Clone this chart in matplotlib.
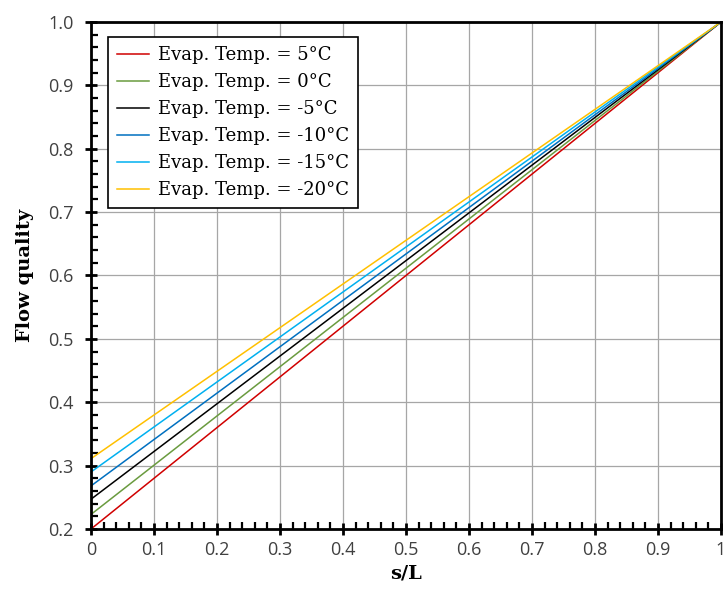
import matplotlib
matplotlib.use("Agg")
import matplotlib.pyplot as plt
import numpy as np
from matplotlib.ticker import MultipleLocator

s_over_l = [0.0, 1.0]
q_5 = [0.200, 1.0]
q_0 = [0.223, 1.0]
q_m5 = [0.247, 1.0]
q_m10 = [0.268, 1.0]
q_m15 = [0.290, 1.0]
q_m20 = [0.311, 1.0]

labels = [
    "Evap. Temp. = 5°C",
    "Evap. Temp. = 0°C",
    "Evap. Temp. = -5°C",
    "Evap. Temp. = -10°C",
    "Evap. Temp. = -15°C",
    "Evap. Temp. = -20°C",
]
colors = ["#D00000", "#6A9B3F", "#000000", "#0070C0", "#00B0F0", "#FFC000"]

xticks = [0, 0.1, 0.2, 0.3, 0.4, 0.5, 0.6, 0.7, 0.8, 0.9, 1]
yticks = [0.2, 0.3, 0.4, 0.5, 0.6, 0.7, 0.8, 0.9, 1.0]

fig = plt.figure(figsize=(7.23, 5.92), dpi=100)
ax = fig.add_axes([91 / 723, 1 - 529 / 592, 630 / 723, 507 / 592])

for ys, lab, col in zip([q_5, q_0, q_m5, q_m10, q_m15, q_m20], labels, colors):
    ax.plot(s_over_l, ys, color=col, lw=1.1, label=lab)

ax.set_xlim(0, 1)
ax.set_ylim(0.2, 1.0)
ax.set_xticks(xticks)
ax.set_xticklabels([f"{v:g}" for v in xticks])
ax.set_yticks(yticks)
ax.set_yticklabels([f"{v:.1f}" for v in yticks])
ax.xaxis.set_minor_locator(MultipleLocator(0.02))
ax.yaxis.set_minor_locator(MultipleLocator(0.02))
ax.grid(True, which="major", color="#A6A6A6", lw=0.9)
ax.set_axisbelow(True)

for sp in ax.spines.values():
    sp.set_linewidth(2.0)
ax.tick_params(which="major", direction="inout", length=9, width=2.0,
               labelsize=13, labelcolor="#404040")
ax.tick_params(axis="x", which="major", pad=4)
ax.tick_params(axis="y", which="major", pad=8)
ax.tick_params(which="minor", direction="in", length=5, width=1.6)
for t in ax.get_xticklabels() + ax.get_yticklabels():
    t.set_family("Open Sans")

ax.set_xlabel("s/L", family="DejaVu Serif", fontweight="bold", fontsize=14, labelpad=4)
ax.set_ylabel("Flow quality", family="DejaVu Serif", fontweight="bold", fontsize=14, labelpad=10)

leg = ax.legend(loc="upper left", bbox_to_anchor=(0.027, 0.970), borderaxespad=0,
                fancybox=False, edgecolor="black", framealpha=1,
                handlelength=1.75, handletextpad=0.5,
                labelspacing=0.5, borderpad=0.5,
                prop={"family": "DejaVu Serif", "size": 13})
leg.get_frame().set_linewidth(1.2)

fig.savefig("out.png", dpi=100)
